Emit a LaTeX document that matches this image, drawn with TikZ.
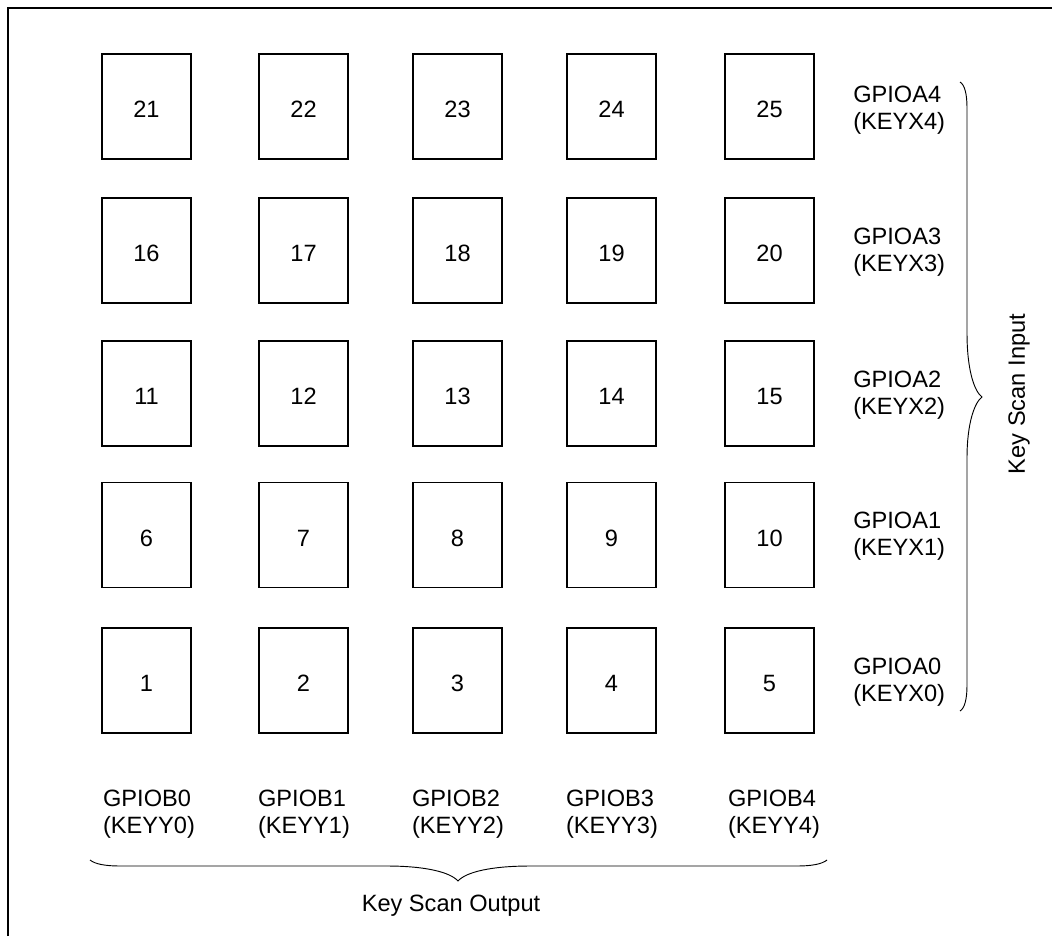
\documentclass[tikz,border=0pt]{standalone}
\usepackage{fontspec}
\setmainfont{Liberation Sans}
\begin{document}
\begin{tikzpicture}[x=0.75pt,y=-0.75pt,
  key/.style={draw,line width=1.1pt,minimum width=89*0.75pt,minimum height=105*0.75pt,inner sep=0pt,text height=17.2pt,text depth=0pt,font=\fontsize{17.7}{21}\selectfont},
  lbl/.style={align=left,inner sep=0pt,font=\fontsize{17.7}{20.5}\selectfont},
  brace/.style={line width=0.7pt},
  txt/.style={inner sep=0pt,font=\fontsize{17.7}{21}\selectfont}]
\useasboundingbox (0,0) rectangle (1052,936);
\draw[line width=1.1pt] (8,936) -- (8,8) -- (1052,8);
% keys
\foreach \r/\cy in {0/680.5,1/535,2/393.5,3/250.5,4/106.5}{
  \foreach \c/\cx in {1/146.5,2/303.5,3/457.5,4/611.5,5/769.5}{
    \pgfmathtruncatemacro{\n}{\r*5+\c}
    \node[key] (k\n) at (\cx,\cy) {\n};
  }
}
% row labels
\foreach \r/\cy in {0/682,1/536,2/395,3/252,4/110}{
  \node[lbl,anchor=west] (a\r) at (853,\cy) {GPIOA\r\\(KEYX\r)};
}
% column labels
\foreach \c/\cx in {0/149,1/304,2/458,3/612,4/774}{
  \node[lbl] (b\c) at (\cx,814) {GPIOB\c\\(KEYY\c)};
}
% right brace
\draw[brace] (960,82) .. controls (965,85) and (967,95) .. (967,108) -- (967,333)
  .. controls (967,372) and (975,392) .. (982,397)
  .. controls (975,402) and (967,422) .. (967,458) -- (967,685)
  .. controls (967,698) and (965,708) .. (960,711);
\node[txt,rotate=90] (kin) at (1019,394) {Key Scan Input};
% bottom brace
\draw[brace] (90,860) .. controls (95,864) and (105,866) .. (120,866) -- (387,866)
  .. controls (425,866) and (450,872) .. (458,881)
  .. controls (466,872) and (491,866) .. (530,866) -- (797,866)
  .. controls (812,866) and (822,864) .. (827,860);
\node[txt] (kout) at (451,906) {Key Scan Output};
\end{tikzpicture}
\end{document}
